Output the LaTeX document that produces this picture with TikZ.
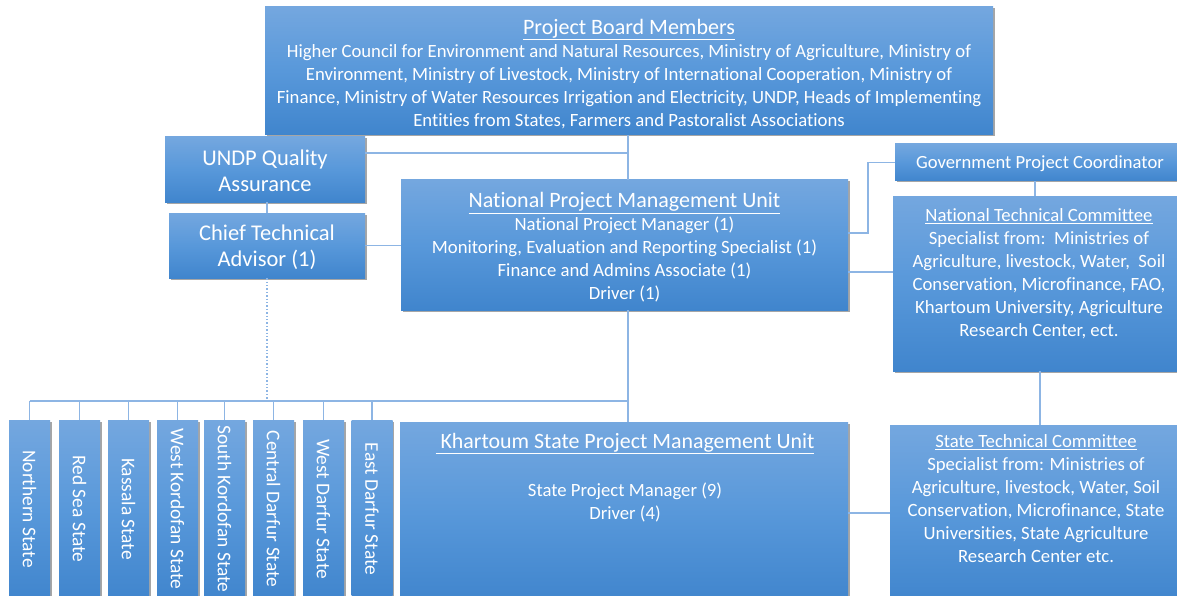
\documentclass[tikz,border=0pt]{standalone}
\usepackage{fontspec}
\setmainfont[Ligatures={NoCommon}]{Carlito}
\usetikzlibrary{shadows}
\definecolor{boxtop}{RGB}{116,167,223}
\definecolor{boxmid}{RGB}{88,152,218}
\definecolor{boxbot}{RGB}{64,133,205}
\definecolor{linkc}{RGB}{141,181,228}
\newcommand\fsBody{\fontsize{18.7}{23}\selectfont}
\newcommand\fsBig{\fontsize{22.5}{26.5}\selectfont}
\newcommand\fsState{\fontsize{19.4}{22}\selectfont}
\tikzset{
  box/.style={rectangle, inner sep=0pt, top color=boxtop, bottom color=boxbot, middle color=boxmid,
    draw=none, drop shadow={shadow xshift=1.5pt, shadow yshift=-1.5pt, opacity=0.35, fill=black}},
  txt/.style={text=white, align=center, inner sep=0pt, font=\fsBody},
  link/.style={draw=linkc, line width=1.6pt},
  dlink/.style={draw=linkc, line width=1.4pt, dotted},
  statebox/.style={box, minimum width=41, minimum height=180},
}
\begin{document}
\begin{tikzpicture}[x=1pt,y=-1pt]
\useasboundingbox (0,0) rectangle (1177,596);
\clip (0,0) rectangle (1177,596);
\fill[white] (0,0) rectangle (1177,596);
\coordinate (trunk) at (628,0);
\coordinate (bus) at (0,401);

% boxes
\node[box, minimum width=728, minimum height=128] (board) at (629,71) {};
\node[txt] (boardt) at (629,74) {{\fontsize{22}{23}\selectfont\underline{Project Board Members}}\\
 Higher Council for Environment and Natural Resources, Ministry of Agriculture, Ministry of\\
 Environment, Ministry of Livestock, Ministry of International Cooperation, Ministry of\\
 Finance, Ministry of Water Resources Irrigation and Electricity, UNDP, Heads of Implementing\\
 Entities from States, Farmers and Pastoralist Associations};

\node[box, minimum width=200, minimum height=65] (qa) at (265,169.5) {};
\node[txt, font=\fsBig] (qat) at (265,171) {UNDP Quality\\ Assurance};

\node[box, minimum width=196, minimum height=65] (cta) at (267,245.5) {};
\node[txt, font=\fsBig] (ctat) at (267,247) {Chief Technical\\ Advisor (1)};

\node[box, minimum width=447, minimum height=130] (npmu) at (624.5,245) {};
\node[txt] (npmut) at (624.5,247.5) {{\fontsize{22}{23.5}\selectfont\underline{National Project Management Unit}}\\
 National Project Manager (1)\\
 Monitoring, Evaluation and Reporting Specialist (1)\\
 Finance and Admins Associate (1)\\
 Driver (1)};

\node[box, minimum width=290, minimum height=37, anchor=west] (gpc) at (895,162.5) {};
\node[txt, font=\fontsize{18.6}{22}\selectfont] (gpct) at (1040,163.5) {Government Project Coordinator};

\node[box, minimum width=290, minimum height=175, anchor=north west] (ntc) at (893,196) {};
\node[txt, anchor=north] (ntct) at (1039,208) {\underline{National Technical Committee}\\
 Specialist from:\ \ Ministries of\\
 Agriculture, livestock, Water,\ \ Soil\\
 Conservation, Microfinance, FAO,\\
 Khartoum University, Agriculture\\
 Research Center, ect.};

\node[box, minimum width=448, minimum height=180, anchor=north west] (kh) at (400,422) {};
\node[txt, anchor=north] (kht) at (625,433) {{\fontsize{21.9}{23}\selectfont\underline{\ Khartoum State Project Management Unit}}\\[25pt]
 State Project Manager (9)\\
 Driver (4)};

\node[box, minimum width=292, minimum height=178, anchor=north west] (stc) at (890,425) {};
\node[txt, anchor=north] (stct) at (1036,434) {\underline{State Technical Committee}\\
 Specialist from: Ministries of\\
 Agriculture, livestock, Water, Soil\\
 Conservation, Microfinance, State\\
 Universities, State Agriculture\\
 Research Center etc.};

% state boxes
\foreach \n/\x/\t in {s1/29.5/Northern State, s2/79.5/Red Sea State, s3/128.5/Kassala State,
  s4/177.5/West Kordofan State, s5/224.5/South Kordofan State, s6/273.5/Central Darfur State,
  s7/323.5/West Darfur State, s8/372/East Darfur State}{
  \node[statebox, anchor=north] (\n) at (\x,420) {};
  \node[txt, rotate=-90, font=\fsState] (\n t) at (\x,509) {\t};
}

% connectors
\draw[link] (board.south -| trunk) -- (npmu.north -| trunk);
\draw[link] ([yshift=16.5pt]qa.east) -- ([yshift=16.5pt]qa.east -| trunk);
\draw[link] (qa.south -| cta.north) -- (cta.north);
\draw[link] (cta.east) -- (cta.east -| npmu.west);
\draw[dlink] (cta.south) -- (cta.south |- bus);
\draw[link] (npmu.south -| trunk) -- (kh.north -| trunk);
\draw[link] (s1.north |- bus) -- (bus -| trunk);
\foreach \n in {s1,s2,s3,s4,s5,s6,s7,s8}{
  \draw[link] (\n.north) -- (\n.north |- bus);
}
\draw[link] ([yshift=12pt]npmu.east) -- ++(20,0) |- (gpc.west);
\draw[link] ([yshift=-27pt]npmu.east) -- ([yshift=-27pt]npmu.east -| ntc.west);
\draw[link] ([xshift=-3pt]gpc.south -| ntc.north) -- ([xshift=-3pt]ntc.north);
\draw[link] ([xshift=2pt]ntc.south) -- ([xshift=2pt]ntc.south |- stc.north);
\draw[link] ([yshift=-1pt]kh.east) -- ([yshift=-1pt]kh.east -| stc.west);
\end{tikzpicture}
\end{document}
